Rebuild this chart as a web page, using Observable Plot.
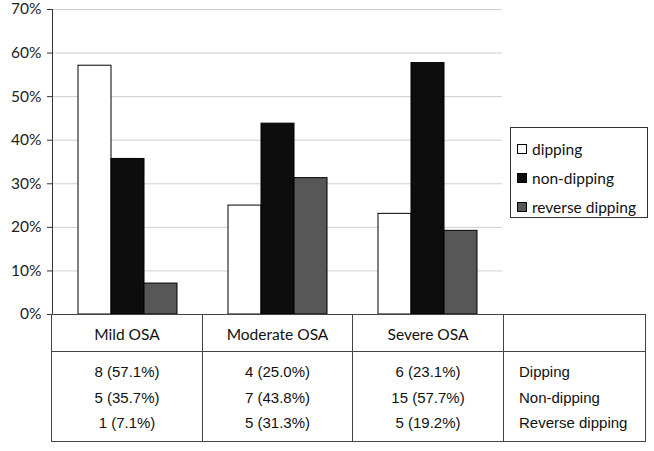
<!DOCTYPE html>
<html><head><meta charset="utf-8">
<script src="https://cdn.jsdelivr.net/npm/d3@7"></script>
<script src="https://cdn.jsdelivr.net/npm/@observablehq/plot@0.6"></script>
<style>
body{margin:0;background:#fff;}
#wrap{position:relative;width:654px;height:451px;overflow:hidden;font-family:Lato,"Open Sans",sans-serif;color:#111;}
#chart{position:absolute;left:0;top:0;}
#legend{position:absolute;left:510px;top:127px;width:138px;height:91px;border:1px solid #333;box-sizing:border-box;padding:6px 0 0 6px;font-size:15.5px;}
#legend .item{display:flex;align-items:center;height:29px;}
#legend .sw{width:10px;height:10px;border:1px solid #000;box-sizing:border-box;margin-right:5px;}
#tbl{position:absolute;left:51px;top:314px;border-collapse:collapse;table-layout:fixed;}
#tbl td{border:1px solid #444;padding:0;}
#tbl tr.head td{height:37px;text-align:center;font-family:Lato,sans-serif;font-size:15.5px;padding-top:2px;box-sizing:border-box;}
#tbl tr.body td{height:90px;vertical-align:top;padding-top:7px;font-family:"Liberation Sans",Arial,sans-serif;font-size:15px;box-sizing:border-box;}
#tbl tr.body td div{height:25.5px;line-height:25.5px;}
#tbl tr.body td.num{text-align:center;}
#tbl tr.body td.lab{text-align:left;padding-left:15px;}
</style>
</head><body>
<div id="wrap">
  <div id="chart"></div>
  <div id="legend"></div>
  <table id="tbl"></table>
</div>
<script>
const groups = ["Mild OSA", "Moderate OSA", "Severe OSA"];
const series = ["dipping", "non-dipping", "reverse dipping"];
const rowLabels = ["Dipping", "Non-dipping", "Reverse dipping"];
const dippingPct = [57.1, 25.0, 23.1];
const nonDippingPct = [35.7, 43.8, 57.7];
const reversePct = [7.1, 31.3, 19.2];
const dippingN = [8, 4, 6];
const nonDippingN = [5, 7, 15];
const reverseN = [1, 5, 5];
const colors = ["#ffffff", "#0d0d0d", "#575757"];
const yTicks = [0, 0.1, 0.2, 0.3, 0.4, 0.5, 0.6, 0.7];

const pctBySeries = [dippingPct, nonDippingPct, reversePct];
const nBySeries = [dippingN, nonDippingN, reverseN];

const data = [];
groups.forEach((g, gi) => series.forEach((s, si) => data.push({group: g, series: s, value: pctBySeries[si][gi] / 100})));

const chart = Plot.plot({
  width: 654,
  height: 324,
  marginTop: 9,
  marginBottom: 10,
  marginLeft: 51,
  marginRight: 151,
  style: {fontFamily: "Lato, sans-serif", fontSize: "15px", color: "#222", background: "transparent"},
  fx: {domain: groups, paddingInner: 0, paddingOuter: 0, axis: null},
  x: {domain: series, paddingInner: 0, paddingOuter: 0.77, axis: null},
  y: {domain: [0, 0.7], axis: null},
  color: {domain: series, range: colors},
  marks: [
    Plot.gridY(yTicks.slice(1), {stroke: "#cfcfcf", strokeOpacity: 1}),
    Plot.axisY(yTicks, {tickSize: 5, tickPadding: 6, tickFormat: d3.format(".0%"), fontSize: 15.5, stroke: "#333", label: null, facetAnchor: "left"}),
    Plot.barY(data, {fx: "group", x: "series", y: "value", fill: "series", stroke: "#000", strokeWidth: 1, inset: 0}),
    Plot.ruleY([0], {stroke: "#444"}),
    Plot.frame({anchor: "left", facetAnchor: "left", stroke: "#333"})
  ]
});
document.getElementById("chart").appendChild(chart);

// legend
const leg = document.getElementById("legend");
series.forEach((s, i) => {
  const it = document.createElement("div");
  it.className = "item";
  const sw = document.createElement("span");
  sw.className = "sw";
  sw.style.background = colors[i];
  it.appendChild(sw);
  it.appendChild(document.createTextNode(s));
  leg.appendChild(it);
});

// table
const colW = [151, 150, 151, 142];
const tbl = document.getElementById("tbl");
const cg = document.createElement("colgroup");
colW.forEach(w => { const c = document.createElement("col"); c.style.width = w + "px"; cg.appendChild(c); });
tbl.appendChild(cg);
const head = document.createElement("tr");
head.className = "head";
groups.concat([""]).forEach(g => { const td = document.createElement("td"); td.textContent = g; head.appendChild(td); });
tbl.appendChild(head);
const body = document.createElement("tr");
body.className = "body";
groups.forEach((g, gi) => {
  const td = document.createElement("td");
  td.className = "num";
  series.forEach((s, si) => {
    const d = document.createElement("div");
    d.textContent = `${nBySeries[si][gi]} (${pctBySeries[si][gi].toFixed(1)}%)`;
    td.appendChild(d);
  });
  body.appendChild(td);
});
const lab = document.createElement("td");
lab.className = "lab";
rowLabels.forEach(r => { const d = document.createElement("div"); d.textContent = r; lab.appendChild(d); });
body.appendChild(lab);
tbl.appendChild(body);
</script>
</body></html>
